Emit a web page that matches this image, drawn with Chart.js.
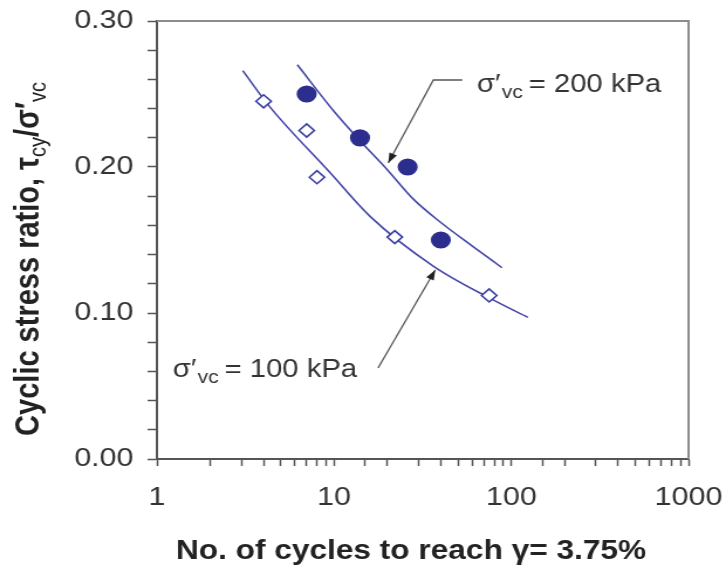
<!DOCTYPE html>
<html lang="en">
<head>
<meta charset="UTF-8">
<title>Cyclic stress ratio vs. number of cycles</title>
<script src="https://cdn.jsdelivr.net/npm/chart.js"></script>
<style>
    body { margin: 0; background: #fff; }
</style>
</head>
<body>
<!-- the source figure is a little stretched sideways (dots are wider than tall), so the canvas is too -->
<canvas id="csrChart" width="620" height="577" style="display:block;width:726px;height:577px"></canvas>
<script>
    // test points
    const cycles200 = [7, 14, 26, 40];
    const ratio200 = [0.25, 0.22, 0.20, 0.15];
    const cycles100 = [4, 7, 8, 22, 75];
    const ratio100 = [0.245, 0.225, 0.193, 0.152, 0.112];

    // fitted curves
    const curveCycles200 = [6.2, 10, 14, 20, 28, 40, 60, 88.6];
    const curveRatio200 = [0.270, 0.238, 0.218, 0.198, 0.178, 0.162, 0.146, 0.131];
    const curveCycles100 = [3.05, 4.35, 9.5, 16, 36.4, 76, 124];
    const curveRatio100 = [0.266, 0.241, 0.196, 0.166, 0.132, 0.110, 0.097];

    // axis labels
    const xMajor = [1, 10, 100, 1000];
    const yMajor = [0, 0.1, 0.2, 0.3];

    // call-outs (data coordinates)
    const note200 = '= 200 kPa';
    const note200At = [64, 0.2514];
    const arrow200 = [[52.9, 0.2596], [36.3, 0.2596], [20.2, 0.2027]];
    const note100 = '= 100 kPa';
    const note100At = [1.23, 0.0562];
    const arrow100 = [[17.7, 0.0623], [37.2, 0.1295]];

    const FONT = '"Liberation Sans", Arial, sans-serif';
    const BLUE = '#2c2e8e';
    const LINE = '#4547a8';
    const INK = '#333';

    const toXY = (xs, ys) => xs.map((x, i) => ({ x: x, y: ys[i] }));

    function drawRich(ctx, parts, x, y) {
        parts.forEach(p => {
            ctx.font = p.font;
            ctx.fillText(p.t, x, y + (p.dy || 0));
            x += ctx.measureText(p.t).width + (p.gap || 0);
        });
    }
    function richWidth(ctx, parts) {
        let w = 0;
        parts.forEach(p => { ctx.font = p.font; w += ctx.measureText(p.t).width + (p.gap || 0); });
        return w;
    }
    function leader(ctx, pts) {
        ctx.beginPath();
        ctx.moveTo(pts[0][0], pts[0][1]);
        for (let i = 1; i < pts.length; i++) ctx.lineTo(pts[i][0], pts[i][1]);
        ctx.stroke();
        const [ax, ay] = pts[pts.length - 2];
        const [bx, by] = pts[pts.length - 1];
        const a = Math.atan2(by - ay, bx - ax);
        ctx.beginPath();
        ctx.moveTo(bx, by);
        ctx.lineTo(bx - 10 * Math.cos(a) + 3.5 * Math.sin(a), by - 10 * Math.sin(a) - 3.5 * Math.cos(a));
        ctx.lineTo(bx - 10 * Math.cos(a) - 3.5 * Math.sin(a), by - 10 * Math.sin(a) + 3.5 * Math.cos(a));
        ctx.closePath();
        ctx.fill();
    }

    const decorations = {
        id: 'decorations',
        beforeDatasetsDraw(chart) {
            const { ctx, chartArea: a } = chart;
            ctx.save();
            ctx.strokeStyle = '#8c8c8c';
            ctx.lineWidth = 2;
            ctx.beginPath();
            ctx.moveTo(a.left, a.top);
            ctx.lineTo(a.right, a.top);
            ctx.lineTo(a.right, a.bottom);
            ctx.stroke();
            ctx.restore();
        },
        afterDatasetsDraw(chart) {
            const { ctx, scales: { x, y } } = chart;
            const px = p => [x.getPixelForValue(p[0]), y.getPixelForValue(p[1])];
            ctx.save();
            ctx.strokeStyle = '#555';
            ctx.fillStyle = '#222';
            ctx.lineWidth = 1.3;
            leader(ctx, arrow200.map(px));
            leader(ctx, arrow100.map(px));
            ctx.fillStyle = INK;
            ctx.textBaseline = 'alphabetic';
            const label = t => [
                { t: 'σ′', font: '25px ' + FONT, gap: 1 },
                { t: 'vc', font: '18px ' + FONT, dy: 6, gap: 5 },
                { t: t, font: '25px ' + FONT }
            ];
            let [lx, ly] = px(note200At);
            drawRich(ctx, label(note200), lx, ly);
            [lx, ly] = px(note100At);
            drawRich(ctx, label(note100), lx, ly);
            ctx.restore();
        },
        afterDraw(chart) {
            const { ctx, chartArea: a } = chart;
            ctx.save();
            ctx.fillStyle = '#222';
            ctx.textBaseline = 'alphabetic';
            // x title
            const xt = [{ t: 'No. of cycles to reach γ= 3.75%', font: 'bold 27px ' + FONT }];
            drawRich(ctx, xt, (a.left + a.right) / 2 - 10 - richWidth(ctx, xt) / 2, 559);
            // y title, rotated
            const yt = [
                { t: 'Cyclic stress ratio, ', font: 'bold 29px ' + FONT },
                { t: 'τ', font: 'bold 29px ' + FONT },
                { t: 'cy', font: '20px ' + FONT, dy: 6 },
                { t: '/σ′', font: 'bold 29px ' + FONT },
                { t: 'vc', font: '20px ' + FONT, dy: 6 }
            ];
            ctx.translate(33, (a.top + a.bottom) / 2 + 19);
            ctx.rotate(-Math.PI / 2);
            drawRich(ctx, yt, -richWidth(ctx, yt) / 2, 0);
            ctx.restore();
        }
    };

    const tickFont = { family: FONT, size: 26 };

    new Chart(document.getElementById('csrChart'), {
        type: 'scatter',
        data: {
            datasets: [
                {
                    data: toXY(cycles200, ratio200),
                    pointStyle: 'circle',
                    pointRadius: 8.6,
                    backgroundColor: BLUE,
                    borderColor: BLUE,
                    borderWidth: 0
                },
                {
                    data: toXY(cycles100, ratio100),
                    pointStyle: 'rectRot',
                    pointRadius: 6.5,
                    backgroundColor: '#fff',
                    borderColor: '#3a3ca2',
                    borderWidth: 1.6
                },
                {
                    data: toXY(curveCycles200, curveRatio200),
                    showLine: true,
                    pointRadius: 0,
                    borderColor: LINE,
                    borderWidth: 1.6,
                    cubicInterpolationMode: 'monotone'
                },
                {
                    data: toXY(curveCycles100, curveRatio100),
                    showLine: true,
                    pointRadius: 0,
                    borderColor: LINE,
                    borderWidth: 1.6,
                    cubicInterpolationMode: 'monotone'
                }
            ]
        },
        options: {
            responsive: false,
            devicePixelRatio: 1,
            animation: false,
            layout: { padding: { top: 21, right: 32, left: 0, bottom: 0 } },
            plugins: { legend: { display: false }, tooltip: { enabled: false } },
            scales: {
                x: {
                    type: 'logarithmic',
                    min: 1,
                    max: 1000,
                    afterFit: s => { s.height = 118; s.paddingLeft = 0; s.paddingRight = 0; },
                    border: { color: '#555', width: 2 },
                    grid: { drawOnChartArea: false, drawTicks: true, tickLength: 7, tickColor: '#555', tickWidth: 1.5 },
                    ticks: {
                        autoSkip: false,
                        maxRotation: 0,
                        padding: 16,
                        color: INK,
                        font: tickFont,
                        callback: v => xMajor.includes(v) ? String(v) : ''
                    }
                },
                y: {
                    min: 0,
                    max: 0.3,
                    afterFit: s => { s.width = 134; s.paddingTop = 0; s.paddingBottom = 0; },
                    border: { color: '#555', width: 2 },
                    grid: { drawOnChartArea: false, drawTicks: true, tickLength: 8, tickColor: '#555', tickWidth: 1.5 },
                    ticks: {
                        stepSize: 0.02,
                        autoSkip: false,
                        padding: 12,
                        color: INK,
                        font: tickFont,
                        callback: v => yMajor.some(m => Math.abs(m - v) < 1e-6) ? v.toFixed(2) : ''
                    }
                }
            }
        },
        plugins: [decorations]
    });
</script>
</body>
</html>
